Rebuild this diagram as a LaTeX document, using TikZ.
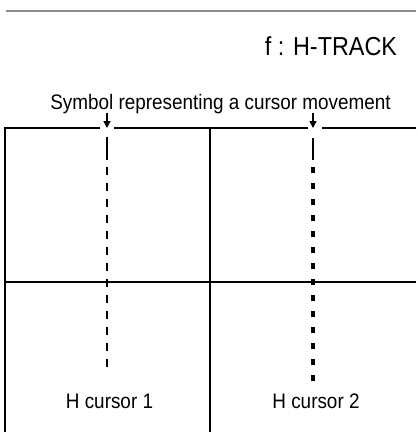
\documentclass[tikz,border=0pt]{standalone}
\usepackage{fontspec}
\setmainfont[FakeStretch=0.9]{Liberation Sans}
\usetikzlibrary{arrows.meta}
\begin{document}
\begin{tikzpicture}[x=1pt, y=-1pt,
    cadre/.style={line width=1.7pt, black},
    legende/.style={font=\fontsize{21}{24}\selectfont, inner sep=0pt, anchor=base},
    curseurA/.style={line width=1.8pt, dash pattern=on 8pt off 8pt},
    curseurB/.style={line width=3.5pt, dash pattern=on 6pt off 10pt},
    fleche/.style={line width=1.5pt, -{Triangle[length=7pt,width=7pt]}}]
  \useasboundingbox (0,0) rectangle (416,432);

  % Filet du haut
  \draw[black!45, line width=2pt] (6,11) -- (416,11);

  % Titre et legende
  \node[legende, font=\fontsize{26}{29}\selectfont] (titre) at (331,55) {f : H-TRACK};
  \node[legende] (symbole) at (220.5,109) {Symbol representing a cursor movement};

  % Positions des curseurs
  \coordinate (C1) at (107,128);
  \coordinate (C2) at (313,128);
  \coordinate (F1) at (107,113);
  \coordinate (F2) at (313,113);

  % Cadre de l'ecran
  \draw[cadre] (416,128) -- (322,128) (308,128) -- (114,128) (100,128) -- (5,128) -- (5,432);
  \draw[cadre] (210,128) -- (210,432);
  \draw[cadre] (5,282) -- (416,282);

  % Fleches
  \draw[fleche] (F1) -- (C1);
  \draw[fleche] (F2) -- (C2);

  % Curseur 1
  \draw[line width=1.8pt] (107,137) -- (107,160);
  \draw[curseurA] (107,167) -- (107,374);

  % Curseur 2
  \draw[line width=1.2pt] (313,138) -- (313,160);
  \draw[curseurB] (313,167) -- (313,381);

  % Noms des curseurs
  \node[legende] (hc1) at (109.5,408) {H cursor 1};
  \node[legende] (hc2) at (316,408) {H cursor 2};
\end{tikzpicture}
\end{document}
